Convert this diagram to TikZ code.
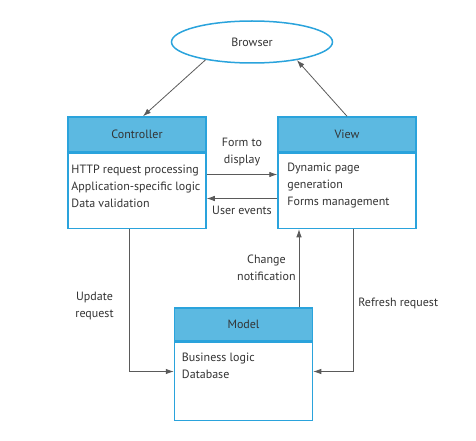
\documentclass[tikz,border=0pt]{standalone}
\usepackage{fontspec}
\setmainfont{PT Sans}
\usetikzlibrary{shapes.geometric,
                arrows.meta, % for arrow tips
                calc,
                positioning}
\definecolor{mvcblue}{HTML}{2AA3DC}
\definecolor{mvchead}{HTML}{5CB9E1}
\definecolor{mvctext}{HTML}{333333}
\definecolor{mvcline}{HTML}{5A5A5A}

\begin{document}
\begin{tikzpicture}[x=1pt, y=-1pt,
                    font=\fontsize{12}{17}\selectfont, text=mvctext,
                    Header/.style={draw=mvcblue, line width=1.5pt, fill=mvchead, minimum width=138pt, minimum height=35pt, inner sep=0pt},
                    Body/.style={draw=mvcblue, line width=1.5pt, fill=white, minimum width=138pt, inner sep=0pt},
                    BodyText/.style={align=left, inner sep=0pt},
                    Label/.style={align=center, inner sep=3pt},
                    flow/.style={draw=mvcline, line width=0.8pt, -{Latex[length=8pt,width=5.5pt]}}
                    ]
    \useasboundingbox (0,0) rectangle (476,441);

    % BROWSER %
    \node[ellipse, draw=mvcblue, line width=1.5pt, minimum width=161pt, minimum height=42pt] (browser) at (252,42) {Browser};

    % BOXES %
    \node[Header] (ctrl) at (137,134.5) {Controller};
    \node[Body, minimum height=75pt, below=0pt of ctrl] (ctrlB) {};
    \node[BodyText, below right=12.5pt and 4pt of ctrlB.north west] (ctrlT) {HTTP request processing\\Application-specific logic\\Data validation};

    \node[Header] (view) at (347,134.5) {View};
    \node[Body, minimum height=75pt, below=0pt of view] (viewB) {};
    \node[BodyText, below right=10.5pt and 10pt of viewB.north west] (viewT) {Dynamic page\\generation\\Forms management};

    \node[Header, minimum height=33pt] (model) at (243.5,324.5) {Model};
    \node[Body, minimum height=78pt, below=0pt of model] (modelB) {};
    \node[BodyText, below right=11.5pt and 8pt of modelB.north west] (modelT) {Business logic\\Database};

    % ARROWS %
    \draw[flow] (browser.201) -- ([xshift=6pt]ctrl.north);
    \draw[flow] (view.north) -- (browser.-22);

    \draw[flow] ([yshift=16.5pt]ctrlB.east) -- ([yshift=16.5pt]viewB.west)
        node[Label, midway, above=5pt] {Form to\\display};
    \draw[flow] ([yshift=-7.5pt]viewB.west) -- ([yshift=-7.5pt]ctrlB.east)
        node[Label, midway, below=4pt] {User events};

    \draw[flow] ([xshift=-8pt]ctrlB.south) |- ([yshift=10pt]modelB.west)
        node[Label, pos=0.27, left=12pt] {Update\\request};
    \draw[flow] ([xshift=55.5pt]model.north) -- ([xshift=55.5pt]model.north |- viewB.south)
        node[Label, midway, left] {Change\\notification};
    \draw[flow] ([xshift=6pt]viewB.south) |- ([yshift=10pt]modelB.east)
        node[Label, pos=0.26, right=2pt] {Refresh request};

\end{tikzpicture}
\end{document}
